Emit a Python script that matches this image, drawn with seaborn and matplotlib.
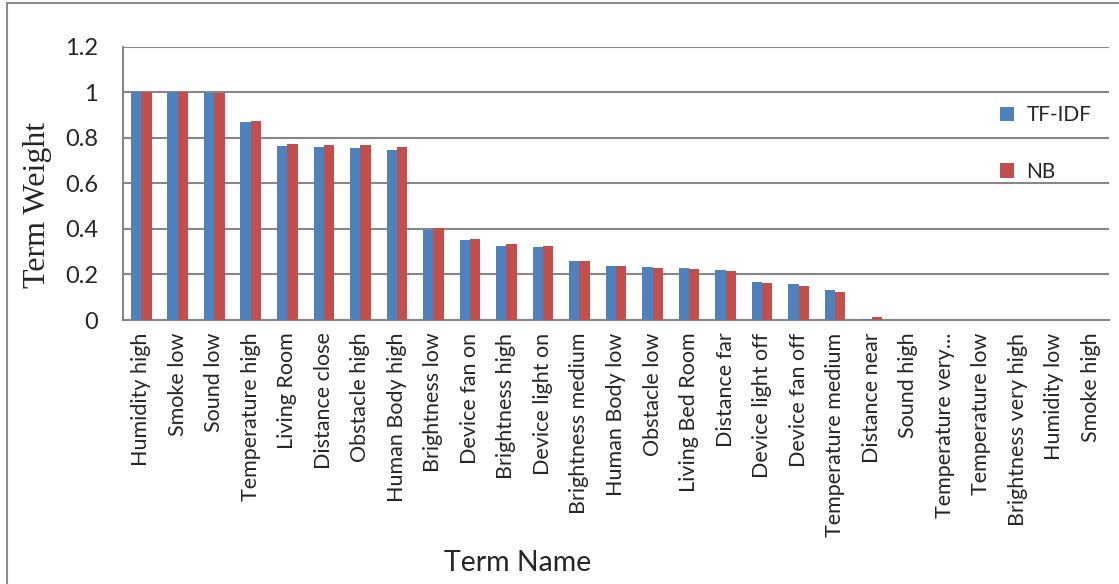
import matplotlib
matplotlib.use("Agg")
import matplotlib.pyplot as plt
from matplotlib.patches import Rectangle
import seaborn as sns
import pandas as pd

terms = ["Humidity high", "Smoke low", "Sound low", "Temperature high", "Living Room",
         "Distance close", "Obstacle high", "Human Body high", "Brightness low",
         "Device fan on", "Brightness high", "Device light on", "Brightness medium",
         "Human Body low", "Obstacle low", "Living Bed Room", "Distance far",
         "Device light off", "Device fan off", "Temperature medium", "Distance near",
         "Sound high", "Temperature very...", "Temperature low", "Brightness very high",
         "Humidity low", "Smoke high"]
tfidf = [1.0, 1.0, 0.998, 0.868, 0.765, 0.760, 0.757, 0.747, 0.394, 0.350, 0.326,
         0.321, 0.259, 0.238, 0.231, 0.227, 0.218, 0.169, 0.158, 0.133, 0.004,
         0, 0, 0, 0, 0, 0]
nb = [1.0, 1.0, 0.998, 0.875, 0.775, 0.770, 0.768, 0.760, 0.404, 0.354, 0.333,
      0.326, 0.259, 0.236, 0.229, 0.223, 0.215, 0.162, 0.151, 0.123, 0.012,
      0, 0, 0, 0, 0, 0]
methods = ["TF-IDF", "NB"]
y_ticks = [0, 0.2, 0.4, 0.6, 0.8, 1.0, 1.2]
y_labels = ["0", "0.2", "0.4", "0.6", "0.8", "1", "1.2"]

df = pd.DataFrame({
    "term": terms * 2,
    "weight": tfidf + nb,
    "method": ["TF-IDF"] * len(terms) + ["NB"] * len(terms),
})

sns.set_style("white")
plt.rcParams["font.family"] = ["Lato", "DejaVu Sans"]
grid_col = "#878787"

fig = plt.figure(figsize=(11.19, 5.84), dpi=100)
ax = fig.add_axes([0.110, 0.452, 0.881, 0.468])

sns.barplot(data=df, x="term", y="weight", hue="method", hue_order=methods,
            palette=["#4F81BD", "#C0504D"], width=0.57, saturation=1,
            edgecolor="none", ax=ax, zorder=3)

ax.set_ylim(0, 1.2)
ax.set_xlim(-0.5, len(terms) - 0.5)
ax.set_yticks(y_ticks)
ax.set_yticklabels(y_labels, fontsize=17)
ax.tick_params(axis="x", labelrotation=90, labelsize=15.5, length=0, pad=9)
ax.tick_params(axis="y", length=8, width=1.5, color=grid_col, direction="out", pad=10)
for lbl in ax.get_xticklabels():
    lbl.set_va("top")
ax.yaxis.grid(True, color=grid_col, linewidth=1.5, zorder=0)
ax.set_axisbelow(True)
for s in ["top", "right"]:
    ax.spines[s].set_visible(False)
for s in ["left", "bottom"]:
    ax.spines[s].set_color(grid_col)
    ax.spines[s].set_linewidth(1.5)

ax.set_xlabel("Term Name", fontsize=20.5)
ax.xaxis.set_label_coords(0.40, -0.842)
ax.set_ylabel("Term Weight", fontsize=23, family=["Liberation Serif"])
ax.yaxis.set_label_coords(-0.072, 0.423)

ax.legend(loc="upper left", bbox_to_anchor=(0.87, 0.855), frameon=False,
          fontsize=15, handlelength=0.7, handleheight=0.7, labelspacing=1.75,
          handletextpad=0.6)

fig.patches.append(Rectangle((7 / 1119, -0.1), 1.2, 1 - 3 / 584 + 0.1,
                             transform=fig.transFigure, fill=False,
                             edgecolor="#8c8c8c", linewidth=1.5))

fig.savefig("out.png", dpi=100)
